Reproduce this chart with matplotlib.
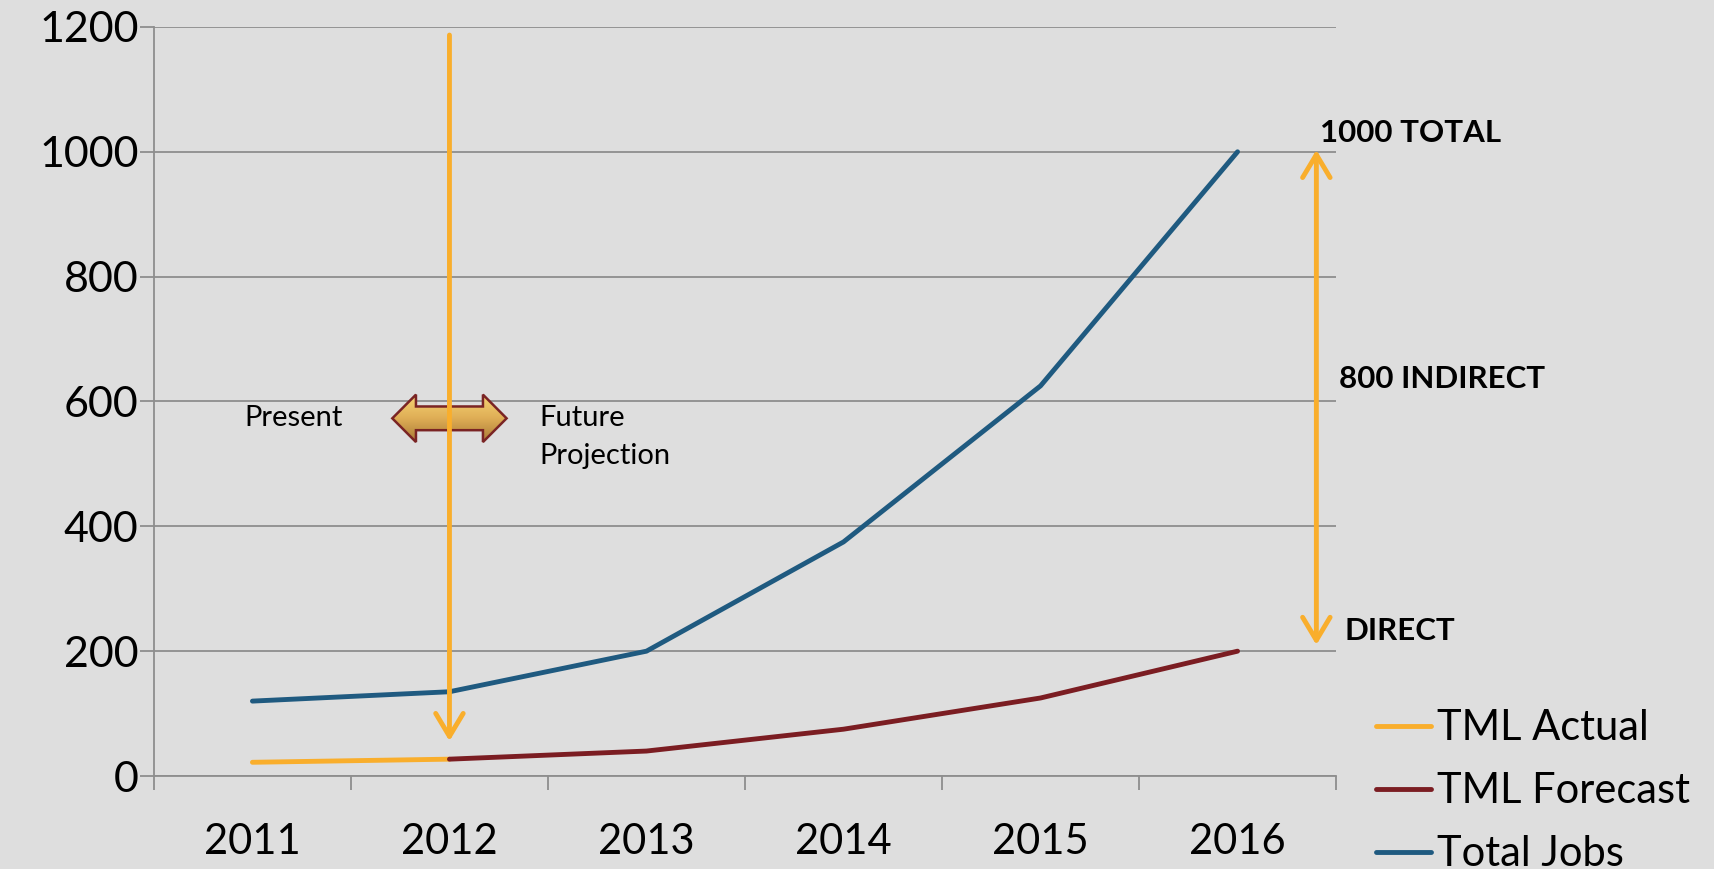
import numpy as np
import matplotlib.pyplot as plt
from matplotlib.patches import Polygon
from matplotlib.colors import LinearSegmentedColormap

plt.rcParams['font.family'] = ['Lato', 'DejaVu Sans']

years = ['2011', '2012', '2013', '2014', '2015', '2016']
tml_actual = [22, 27, np.nan, np.nan, np.nan, np.nan]
tml_forecast = [np.nan, 27, 40, 75, 125, 200]
total_jobs = [120, 135, 200, 375, 625, 1000]

BG = '#dedede'
GRID = '#8e8e8e'
ORANGE = '#f9ae2c'
RED = '#7b1d22'
BLUE = '#1f5a80'

fig = plt.figure(figsize=(17.14, 8.69), dpi=100, facecolor=BG)
ax = fig.add_axes([0.0898, 0.107, 0.6897, 0.862], facecolor=BG)

x = np.arange(len(years))
ax.plot(x, tml_actual, color=ORANGE, lw=3.5, label='TML Actual', zorder=4, solid_capstyle='round')
ax.plot(x, tml_forecast, color=RED, lw=3.5, label='TML Forecast', zorder=4, solid_capstyle='round')
ax.plot(x, total_jobs, color=BLUE, lw=3.5, label='Total Jobs', zorder=4, solid_capstyle='round')

ax.set_xlim(-0.5, len(years) - 0.5)
ax.set_ylim(0, 1200)
ax.set_yticks(range(0, 1201, 200))
ax.set_xticks(x)
ax.set_xticklabels(years)
ax.set_xticks(np.arange(-0.5, len(years), 1), minor=True)
ax.yaxis.grid(True, color=GRID, lw=1.3, zorder=0)
ax.set_axisbelow(True)
for s in ['top', 'right']:
    ax.spines[s].set_visible(False)
for s in ['left', 'bottom']:
    ax.spines[s].set_color(GRID)
    ax.spines[s].set_linewidth(1.3)
ax.tick_params(axis='y', length=10, width=1.3, color=GRID, pad=1, labelsize=31)
ax.tick_params(axis='x', which='major', length=0, pad=34, labelsize=30)
ax.tick_params(axis='x', which='minor', length=10, width=1.3, color=GRID)

# present / future double arrow with gradient
cx, cy, L, hl, hh, sh = 1.0, 573, 0.29, 0.12, 38, 19
verts = [(cx - L, cy), (cx - L + hl, cy + hh), (cx - L + hl, cy + sh),
         (cx + L - hl, cy + sh), (cx + L - hl, cy + hh), (cx + L, cy),
         (cx + L - hl, cy - hh), (cx + L - hl, cy - sh), (cx - L + hl, cy - sh),
         (cx - L + hl, cy - hh)]
poly = Polygon(verts, closed=True, facecolor='none', edgecolor='#7a2424', lw=1.8, zorder=3)
ax.add_patch(poly)
cmap = LinearSegmentedColormap.from_list('gold', ['#a97a36', '#dfae56', '#f7d474'])
grad = np.linspace(0, 1, 100).reshape(-1, 1)
im = ax.imshow(grad, extent=(cx - L, cx + L, cy - hh, cy + hh), origin='lower',
               cmap=cmap, aspect='auto', zorder=2.9)
im.set_clip_path(poly)
ax.set_xlim(-0.5, len(years) - 0.5)
ax.set_ylim(0, 1200)

head = '->,head_length=0.55,head_width=0.33'
# vertical present marker arrow
ax.annotate('', xy=(1, 56), xytext=(1, 1187),
            arrowprops=dict(arrowstyle=head, color=ORANGE, lw=3.5, mutation_scale=30,
                            shrinkA=0, shrinkB=0), zorder=5)

# right double arrow
ax.annotate('', xy=(5.4, 1003), xytext=(5.4, 210),
            arrowprops=dict(arrowstyle=head.replace('->', '<->'), color=ORANGE, lw=3.5,
                            mutation_scale=30, shrinkA=0, shrinkB=0), zorder=5)

ax.text(-0.04, 573, 'Present', fontsize=21, va='center', ha='left', zorder=6)
ax.text(1.455, 573, 'Future', fontsize=21, va='center', ha='left', zorder=6)
ax.text(1.455, 512, 'Projection', fontsize=21, va='center', ha='left', zorder=6)

ax.text(5.42, 1030, '1000 TOTAL', fontsize=22.5, fontweight='bold', ha='left', va='center')
ax.text(5.515, 636, '800 INDIRECT', fontsize=22.5, fontweight='bold', ha='left', va='center')
ax.text(5.545, 233, 'DIRECT', fontsize=22.5, fontweight='bold', ha='left', va='center')

fig.legend(loc='upper left', bbox_to_anchor=(0.803, 0.184), frameon=False,
           fontsize=30, handlelength=1.3, handletextpad=0.15, labelspacing=0.6,
           borderaxespad=0, borderpad=0)

fig.savefig('out.png', dpi=100, facecolor=BG)
